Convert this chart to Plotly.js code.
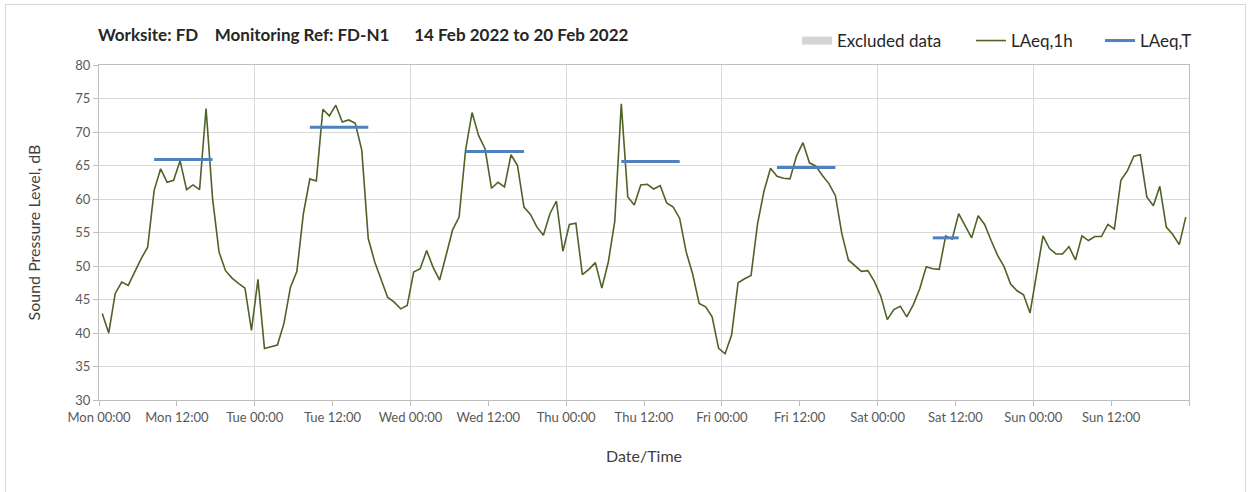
<!DOCTYPE html>
<html>
<head>
<meta charset="utf-8">
<script src="https://cdn.plot.ly/plotly-3.0.1.min.js"></script>
<style>
  html, body { margin: 0; padding: 0; background: #fff; }
  #wrap { position: relative; width: 1250px; height: 492px; }
  #chart { width: 1250px; height: 492px; }
  #frame { position: absolute; left: 5px; top: 4px; width: 1239px; height: 500px;
           border: 1px solid #d9d9d9; pointer-events: none; }
</style>
</head>
<body>
<div id="wrap"><div id="chart"></div><div id="frame"></div></div>
<script>
// Hourly LAeq,1h values from Mon 00:00, plotted at mid-hour
const laeq1h = [
  42.9, 40.0, 45.9, 47.6, 47.1, 49.1, 51.1, 52.8, 61.3, 64.5, 62.5, 62.8,
  65.7, 61.4, 62.1, 61.4, 73.5, 60.1, 52.1, 49.3, 48.2, 47.4, 46.7, 40.4,
  48.0, 37.7, 37.9, 38.2, 41.4, 46.8, 49.2, 57.8, 63.0, 62.7, 73.4, 72.4,
  74.0, 71.5, 71.8, 71.3, 67.3, 54.1, 50.6, 48.0, 45.3, 44.6, 43.6, 44.1,
  49.1, 49.6, 52.3, 49.8, 47.9, 51.6, 55.4, 57.3, 67.3, 72.9, 69.5, 67.5,
  61.6, 62.5, 61.8, 66.6, 65.0, 58.8, 57.7, 55.8, 54.6, 57.8, 59.7, 52.2,
  56.2, 56.4, 48.7, 49.5, 50.5, 46.7, 50.6, 56.7, 74.2, 60.3, 59.1, 62.1,
  62.2, 61.5, 62.0, 59.4, 58.8, 57.1, 52.1, 48.8, 44.4, 43.9, 42.4, 37.7,
  36.9, 39.7, 47.5, 48.1, 48.6, 56.3, 61.2, 64.6, 63.4, 63.1, 63.0, 66.4,
  68.4, 65.4, 64.9, 63.5, 62.3, 60.5, 54.8, 50.9, 50.1, 49.2, 49.3, 47.7,
  45.5, 42.0, 43.5, 44.0, 42.4, 44.2, 46.6, 49.9, 49.6, 49.5, 54.5, 54.0,
  57.8, 56.1, 54.2, 57.5, 56.2, 53.8, 51.6, 49.9, 47.3, 46.3, 45.7, 43.0,
  48.7, 54.5, 52.6, 51.8, 51.8, 52.9, 50.9, 54.5, 53.8, 54.4, 54.4, 56.2,
  55.5, 62.8, 64.2, 66.4, 66.6, 60.3, 59.0, 61.9, 55.8, 54.7, 53.2, 57.3
];
const hours = laeq1h.map((_, i) => i + 0.5);

// LAeq,T period levels: first hour index, last hour index, level
const periodStart = [8, 32, 56, 80, 104, 128];
const periodEnd   = [17, 41, 65, 89, 113, 132];
const periodLevel = [65.9, 70.7, 67.1, 65.6, 64.7, 54.2];

// No excluded data in this week
const excludedX = [null];
const excludedY = [null];

const tickHours = [0, 12, 24, 36, 48, 60, 72, 84, 96, 108, 120, 132, 144, 156, 168];
const tickLabels = ['Mon 00:00','Mon 12:00','Tue 00:00','Tue 12:00','Wed 00:00','Wed 12:00',
  'Thu 00:00','Thu 12:00','Fri 00:00','Fri 12:00','Sat 00:00','Sat 12:00','Sun 00:00','Sun 12:00',''];
const dayGridHours = [0, 24, 48, 72, 96, 120, 144, 168];

const laeqT = laeq1h.map(() => null);
periodStart.forEach((s, k) => {
  for (let i = s; i <= periodEnd[k]; i++) laeqT[i] = periodLevel[k];
});

const FONT = 'Lato, "Open Sans", sans-serif';

const traces = [
  { x: excludedX, y: excludedY, name: 'Excluded data', type: 'scatter', mode: 'lines',
    line: { width: 8, color: '#d4d4d4' }, legend: 'legend', hoverinfo: 'skip', showlegend: true },
  { x: hours, y: laeq1h, name: 'LAeq,1h', type: 'scatter', mode: 'lines',
    line: { color: '#4f6228', width: 1.6 }, legend: 'legend2' },
  { x: hours, y: laeqT, name: 'LAeq,T', type: 'scatter', mode: 'lines', xaxis: 'x2',
    line: { color: '#4f81bd', width: 3 }, connectgaps: false, legend: 'legend3' }
];

const legendBase = { orientation: 'h', xref: 'container', yref: 'container',
  yanchor: 'middle', bgcolor: 'rgba(0,0,0,0)', font: { family: FONT, size: 17, color: '#262626' } };

const layout = {
  width: 1250, height: 492,
  margin: { l: 99, r: 61, t: 65, b: 92 },
  paper_bgcolor: '#ffffff', plot_bgcolor: '#ffffff',
  font: { family: FONT, color: '#404040' },
  title: {
    text: '<b>Worksite: FD\u00a0\u00a0\u00a0\u00a0Monitoring Ref: FD-N1\u00a0\u00a0\u00a0\u00a0\u00a0\u00a014 Feb 2022 to 20 Feb 2022</b>',
    font: { family: FONT, size: 17, color: '#262626' },
    xref: 'container', yref: 'container', x: 98 / 1250, xanchor: 'left',
    y: 1 - 35 / 492, yanchor: 'middle'
  },
  showlegend: true,
  legend: Object.assign({}, legendBase, { x: 797 / 1250, y: 1 - 41 / 492 }),
  legend2: Object.assign({}, legendBase, { x: 971 / 1250, y: 1 - 41 / 492 }),
  legend3: Object.assign({}, legendBase, { x: 1100 / 1250, y: 1 - 41 / 492 }),
  xaxis: {
    range: [0, 168], tickmode: 'array', tickvals: tickHours, ticktext: tickLabels,
    showgrid: false, zeroline: false, showline: true, linecolor: '#bfbfbf', linewidth: 1,
    mirror: true, ticks: 'outside', ticklen: 5, tickcolor: '#bfbfbf',
    tickfont: { family: FONT, size: 13, color: '#595959' },
    title: { text: 'Date/Time', font: { family: FONT, size: 16, color: '#404040' }, standoff: 27 }
  },
  xaxis2: {
    overlaying: 'x', matches: 'x', range: [0, 168], tickmode: 'array', tickvals: dayGridHours,
    showticklabels: false, ticks: '', showgrid: true, gridcolor: '#d9d9d9', gridwidth: 1,
    zeroline: false, showline: false
  },
  yaxis: {
    range: [30, 80], dtick: 5, tick0: 30, showgrid: true, gridcolor: '#d9d9d9', gridwidth: 1,
    zeroline: false, showline: true, linecolor: '#bfbfbf', linewidth: 1, mirror: true,
    ticks: 'outside', ticklen: 5, tickcolor: '#bfbfbf',
    tickfont: { family: FONT, size: 13, color: '#595959' },
    title: { text: 'Sound Pressure Level, dB', font: { family: FONT, size: 16, color: '#404040' }, standoff: 30 }
  }
};

Plotly.newPlot('chart', traces, layout, { displayModeBar: false, staticPlot: true });
</script>
</body>
</html>
